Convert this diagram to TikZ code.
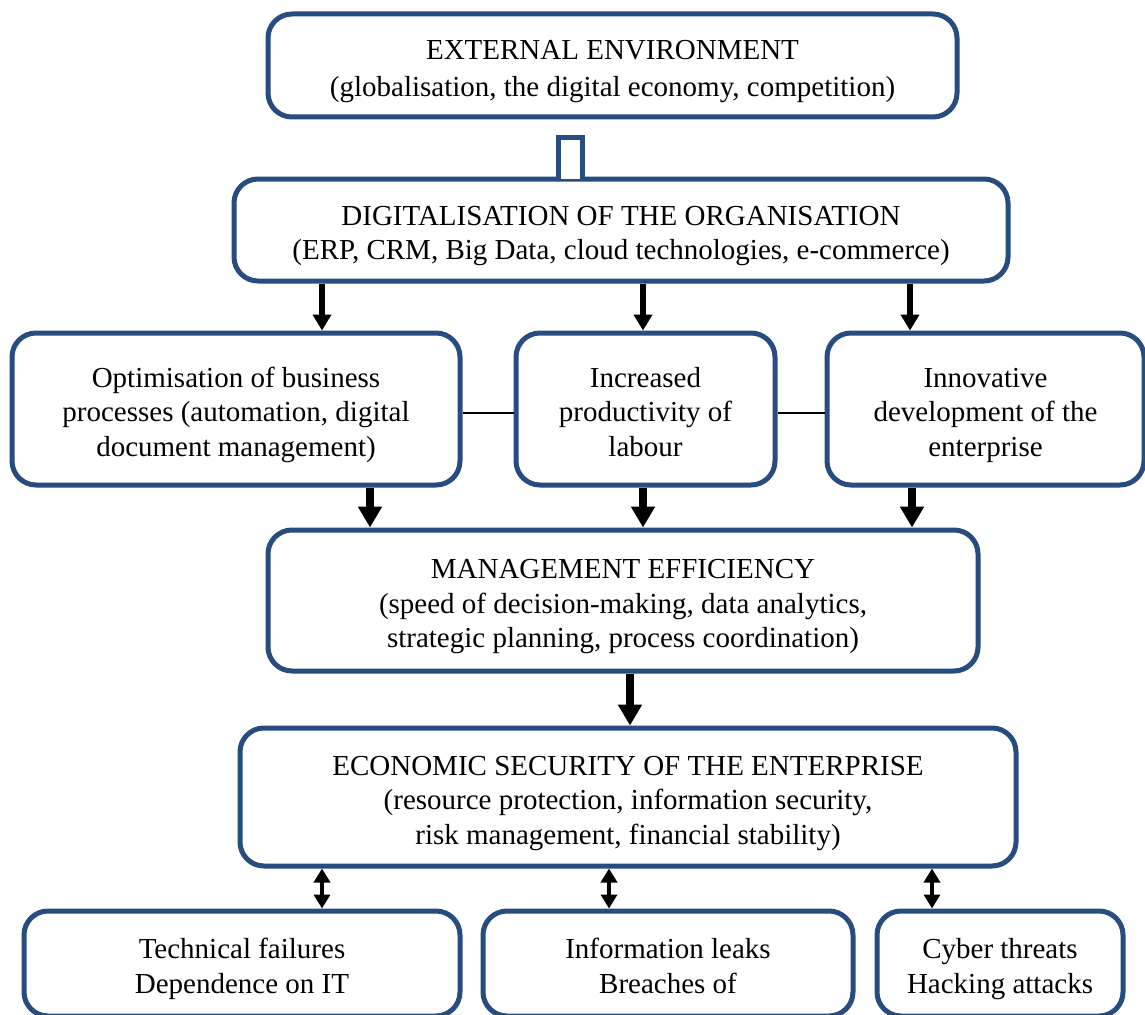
\documentclass[tikz,border=0pt]{standalone}
\usepackage{fontspec}
\setmainfont{Liberation Serif}
\usetikzlibrary{arrows.meta,calc}
\definecolor{boxblue}{RGB}{38,76,128}
% struts that give every text block the same line box at top and bottom
\newcommand{\tS}{\rule{0pt}{32pt}}
\newcommand{\bS}{\rule[-7pt]{0pt}{7pt}}
\begin{document}
\begin{tikzpicture}[x=1pt,y=-1pt,
  card/.style={draw=boxblue,line width=5pt,rounded corners=24pt,fill=white,
    align=center,inner sep=0pt,font=\fontsize{29}{34.5}\selectfont},
  fatarrow/.style={line width=5.5pt,-{Triangle[width=18pt,length=16pt]}},
  heavyarrow/.style={line width=7.5pt,-{Triangle[width=23pt,length=21pt]}},
  twoway/.style={line width=3.5pt,{Triangle[width=16pt,length=14pt]}-{Triangle[width=16pt,length=14pt]}},
  tie/.style={line width=1.6pt}]
\useasboundingbox (0,0) rectangle (1145,1014);
\clip (0,0) rectangle (1145,1014);
\fill[white] (0,0) rectangle (1145,1014);

% main chain
\node[card,minimum width=689pt,minimum height=103pt] (ext) at (612.5,65.5)
  {\tS EXTERNAL ENVIRONMENT\\[2pt](globalisation, the digital economy, competition)\bS};
\node[card,minimum width=774pt,minimum height=102pt] (dig) at (621,230)
  {\tS DIGITALISATION OF THE ORGANISATION\\(ERP, CRM, Big Data, cloud technologies, e-commerce)\bS};

% effects of digitalisation
\node[card,minimum width=448pt,minimum height=152pt] (opt) at (236,409)
  {\tS Optimisation of business\\processes (automation, digital\\document management)\bS};
\node[card,minimum width=259pt,minimum height=152pt] (prod) at (645.5,409)
  {\tS Increased\\productivity of\\labour\bS};
\node[card,minimum width=317pt,minimum height=152pt] (innov) at (985.5,409)
  {\tS Innovative\\development of the\\enterprise\bS};

\node[card,minimum width=710pt,minimum height=141pt] (mgmt) at (623,600.5)
  {\tS MANAGEMENT EFFICIENCY\\(speed of decision-making, data analytics,\\strategic planning, process coordination)\bS};
\node[card,minimum width=776pt,minimum height=138pt] (sec) at (628,797)
  {\tS ECONOMIC SECURITY OF THE ENTERPRISE\\(resource protection, information security,\\risk management, financial stability)\bS};

% risks
\node[card,minimum width=436pt,minimum height=105pt] (tech) at (242,963.5)
  {\tS Technical failures\\Dependence on IT\bS};
\node[card,minimum width=370pt,minimum height=105pt] (leak) at (668,963.5)
  {\tS Information leaks\\Breaches of\bS};
\node[card,minimum width=246pt,minimum height=105pt] (cyber) at (1000,963.5)
  {\tS Cyber threats\\Hacking attacks\bS};

% column positions of the connectors
\coordinate (cA) at (322,0);
\coordinate (cB) at (643,0);
\coordinate (cC) at (910,0);
\coordinate (cD) at (370,0);
\coordinate (cE) at (912,0);
\coordinate (cF) at (630,0);
\coordinate (cG) at (609,0);
\coordinate (cH) at (932,0);

% open link between the two top boxes
\draw[draw=boxblue,line width=5pt,fill=white]
  (558,179) -- (558,137.5) -- (582,137.5) -- (582,179);

\draw[fatarrow] (dig.south -| cA) -- (opt.north -| cA);
\draw[fatarrow] (dig.south -| cB) -- (prod.north -| cB);
\draw[fatarrow] (dig.south -| cC) -- (innov.north -| cC);

\draw[tie] ([yshift=-4pt]opt.east) -- ([yshift=-4pt]prod.west);
\draw[tie] ([yshift=-4pt]prod.east) -- ([yshift=-4pt]innov.west);

\draw[heavyarrow] (opt.south -| cD) -- (mgmt.north -| cD);
\draw[heavyarrow] (prod.south -| cB) -- (mgmt.north -| cB);
\draw[heavyarrow] (innov.south -| cE) -- (mgmt.north -| cE);

\draw[heavyarrow] (mgmt.south -| cF) -- (sec.north -| cF);

\draw[twoway] (sec.south -| cA) -- (tech.north -| cA);
\draw[twoway] (sec.south -| cG) -- (leak.north -| cG);
\draw[twoway] (sec.south -| cH) -- (cyber.north -| cH);
\end{tikzpicture}
\end{document}
